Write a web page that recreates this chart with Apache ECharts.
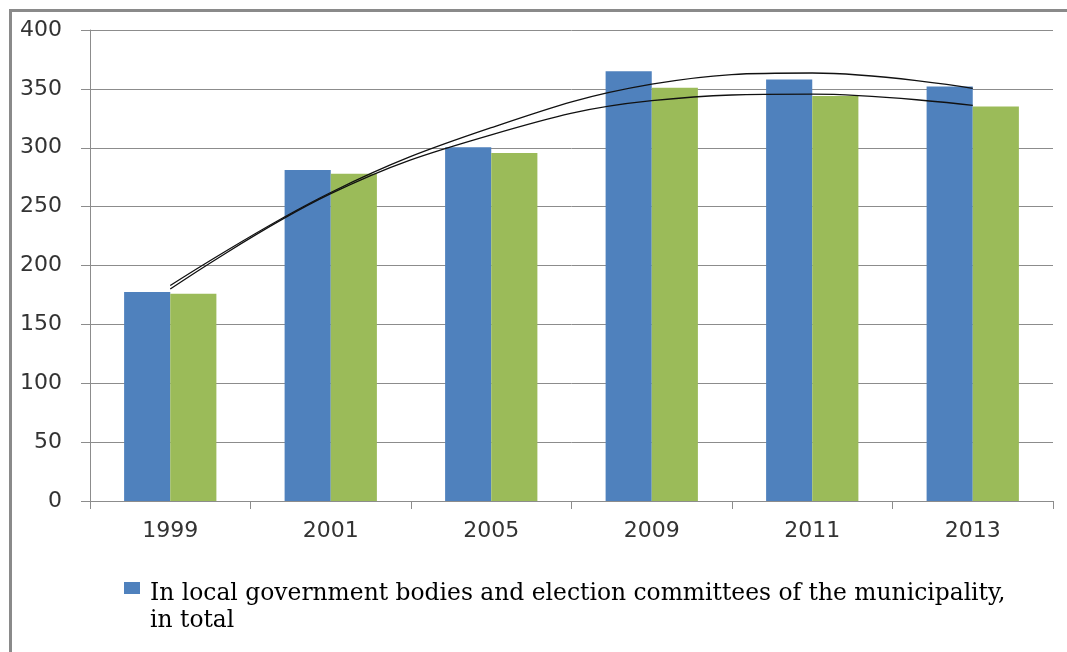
<!DOCTYPE html>
<html>
<head>
<meta charset="utf-8">
<script src="https://cdn.jsdelivr.net/npm/echarts@6/dist/echarts.min.js"></script>
<style>
html,body{margin:0;padding:0;background:#fff;}
#chart{width:1067px;height:652px;}
</style>
</head>
<body>
<div id="chart"></div>
<script>
const categories = ['1999', '2001', '2005', '2009', '2011', '2013'];
const seriesTotal = [177.5, 281, 300.5, 365, 358, 352];
const seriesSecond = [176, 278, 295.5, 351, 344, 335];
const trendTotal = [183, 262, 317, 354, 363.5, 350.5];
const trendSecond = [180, 261, 311, 340, 345.5, 336];
const yTicks = { min: 0, max: 400, interval: 50 };
const nameTotal = 'In local government bodies and election committees of the municipality, in total';
const nameSecond = 'In local government bodies';

const chart = echarts.init(document.getElementById('chart'));
const axisGray = '#8c8c8c';
chart.setOption({
  animation: false,
  backgroundColor: '#fff',
  graphic: [{
    type: 'rect',
    shape: { x: 10.5, y: 10.5, width: 1100, height: 700 },
    style: { fill: 'none', stroke: '#8a8a8a', lineWidth: 3 },
    silent: true
  }],
  grid: { left: 90, right: 14, top: 30, bottom: 151, containLabel: false },
  legend: {
    data: [nameTotal],
    left: 119,
    top: 575,
    itemWidth: 21,
    itemHeight: 50,
    itemGap: 10,
    icon: 'path://M0,0H16V12H0Z M21,50H21.01V49.99H21Z',
    formatter: function (n) { return n.replace('municipality, ', 'municipality,\n'); },
    textStyle: { fontFamily: 'DejaVu Serif', fontSize: 23.4, color: '#000', lineHeight: 27 }
  },
  xAxis: {
    type: 'category',
    data: categories,
    axisLine: { lineStyle: { color: axisGray, width: 1 } },
    axisTick: { show: true, length: 8, lineStyle: { color: axisGray } },
    axisLabel: { fontFamily: 'DejaVu Sans', fontSize: 22, color: '#333', margin: 19 }
  },
  yAxis: {
    type: 'value',
    min: yTicks.min, max: yTicks.max, interval: yTicks.interval,
    axisLine: { show: true, lineStyle: { color: axisGray, width: 1 } },
    axisTick: { show: true, length: 9, lineStyle: { color: axisGray } },
    splitLine: { lineStyle: { color: axisGray, width: 1 } },
    axisLabel: { fontFamily: 'DejaVu Sans', fontSize: 22, color: '#333', margin: 28 }
  },
  series: [
    {
      name: nameTotal, type: 'bar', data: seriesTotal,
      itemStyle: { color: '#4F81BD' },
      barGap: '0%', barCategoryGap: '42.5%'
    },
    {
      name: nameSecond, type: 'bar', data: seriesSecond,
      itemStyle: { color: '#9BBB59' }
    },
    {
      name: 'trend1', type: 'line', data: trendTotal, smooth: 0.4,
      symbol: 'none', z: 5,
      lineStyle: { color: '#111', width: 1.3 }
    },
    {
      name: 'trend2', type: 'line', data: trendSecond, smooth: 0.4,
      symbol: 'none', z: 5,
      lineStyle: { color: '#111', width: 1.3 }
    }
  ]
});
</script>
</body>
</html>
